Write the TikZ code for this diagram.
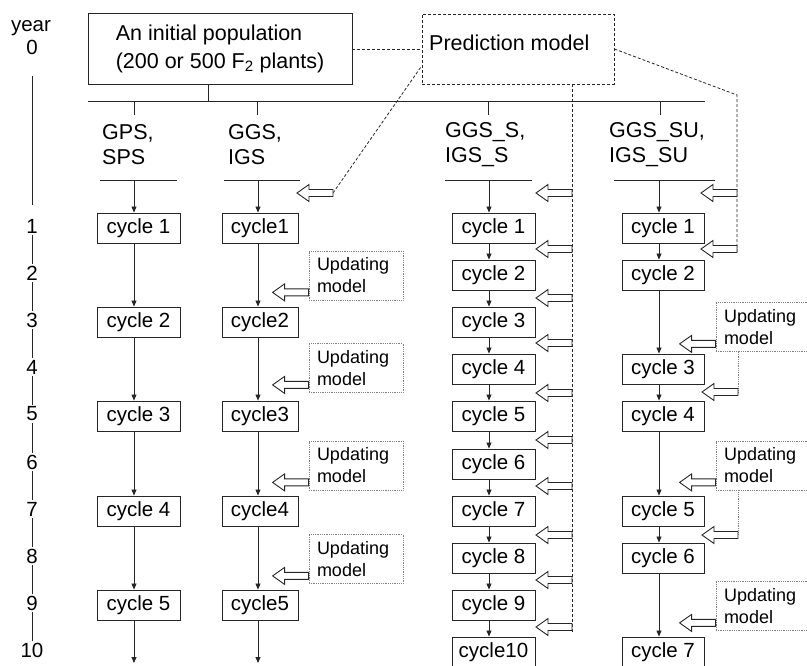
\documentclass[tikz,border=0pt]{standalone}
\usepackage{fontspec}
\setmainfont{Liberation Sans}
\usetikzlibrary{arrows.meta}

\begin{document}
\begin{tikzpicture}[x=1pt, y=-1pt,
    cyc/.style={rectangle, draw=black!85, line width=0.9pt, minimum width=82pt, minimum height=30pt, inner sep=0pt, font=\fontsize{20.5}{24}\selectfont},
    upd/.style={rectangle, draw=black!50, densely dotted, line width=0.8pt, minimum width=94pt, minimum height=49pt, text width=78pt, align=left, inner sep=0pt, font=\fontsize{18}{22}\selectfont},
    hollow/.pic={\draw[draw=black!85, fill=white, line width=0.9pt] (0,-3.5) -- (-24,-3.5) -- (-24,-8.5) -- (-36,0) -- (-24,8.5) -- (-24,3.5) -- (0,3.5) -- cycle;},
    pred/.style={draw=black!85, line width=0.8pt, dash pattern=on 3pt off 2pt},
    updline/.style={draw=black!50, densely dotted, line width=0.8pt},
    flow/.style={-{Triangle[length=6pt,width=5pt]}, draw=black!85, line width=0.8pt},
    bar/.style={draw=black!85, line width=0.9pt},
    txt/.style={font=\fontsize{21.5}{25}\selectfont, align=left, inner sep=0pt},
    yr/.style={font=\fontsize{20.5}{24}\selectfont, inner sep=2pt}
]
    \useasboundingbox (0,0) rectangle (807,665);

    % Years
    \node[yr] (yhead) at (31,28) {year};
    \foreach \n/\y in {0/47,1/226,2/273,3/320,4/367,5/414,6/462,7/509,8/556,9/603,10/650}
        \node[yr] (y\n) at (32,\y) {\n};
    \draw[bar, shorten <=20pt, shorten >=12pt] (y0) -- (y1);
    \foreach \i/\j in {1/2,2/3,3/4,4/5,5/6,6/7,7/8,8/9,9/10}
        \draw[bar] (y\i) -- (y\j);

    % Top
    \node[rectangle, draw=black!85, line width=0.9pt, minimum width=264pt, minimum height=71pt, txt, font=\fontsize{21.5}{28}\selectfont] (pop) at (220,49) {An initial population\\(200 or 500 F\textsubscript{2} plants)};
    \node[rectangle, pred, minimum width=192pt, minimum height=70pt] (model) at (518,49) {};
    \node[txt, anchor=west] (modeltxt) at (429,43) {Prediction model};
    \draw[pred] (pop) -- (model);

    \draw[bar] ([xshift=-12pt]pop.south) -- (208,101);
    \draw[bar] (88,101) -- (705,101);
    \foreach \x in {134,257,488,660}
        \draw[bar] (\x,101) -- (\x,115);

    \node[txt, anchor=west] (lg) at (102,145) {GPS,\\SPS};
    \node[txt, anchor=west] (li) at (228,145) {GGS,\\IGS};
    \node[txt, anchor=west] (ls) at (445,145) {GGS\_S,\\IGS\_S};
    \node[txt, anchor=west] (lu) at (609,145) {GGS\_SU,\\IGS\_SU};

    \draw[bar] (100,180) -- (177,180);
    \draw[bar] (224,180) -- (300,180);
    \draw[bar] (445,180) -- (532,180);
    \draw[bar] (614,180) -- (715,180);
    \coordinate (bg) at (134,180);
    \coordinate (bi) at (258,180);
    \coordinate (bs) at (489,180);
    \coordinate (bu) at (659,180);
    \coordinate (eg) at (134,663);
    \coordinate (ei) at (258,663);

    % GPS, SPS
    \foreach \i/\y in {1/228,2/322,3/416,4/511,5/605}
        \node[cyc, minimum width=83pt] (g\i) at (138.5,\y) {cycle \i};
    \draw[flow] (bg) -- (bg |- g1.north);
    \foreach \i/\j in {1/2,2/3,3/4,4/5}
        \draw[flow] (g\i.south -| bg) -- (g\j.north -| bg);
    \draw[flow] (g5.south -| bg) -- (eg);

    % GGS, IGS
    \foreach \i/\y in {1/228,2/322,3/416,4/511,5/605}
        \node[cyc, minimum width=76pt] (i\i) at (260,\y) {cycle\i};
    \draw[flow] (bi) -- (bi |- i1.north);
    \foreach \i/\j in {1/2,2/3,3/4,4/5}
        \draw[flow] (i\i.south -| bi) -- (i\j.north -| bi);
    \draw[flow] (i5.south -| bi) -- (ei);
    \coordinate (ti) at (333,193);
    \draw[pred] (ti) -- ([yshift=-17pt]model.west);
    \pic at (ti) {hollow};
    \foreach \i/\y in {1/275.5,2/368,3/465.5,4/559} {
        \node[upd] (ui\i) at (356,\y) {Updating\\model};
        \pic at ([yshift=8pt]ui\i.south west) {hollow};
    }

    % GGS_S, IGS_S
    \foreach \i/\y in {1/228,2/275,3/322,4/369,5/416,6/464,7/511,8/558,9/605,10/652}
        \node[cyc, minimum width=83pt] (s\i) at (493.5,\y) {cycle\ifnum\i<10\ \fi\i};
    \draw[flow] (bs) -- (bs |- s1.north);
    \foreach \i/\j in {1/2,2/3,3/4,4/5,5/6,6/7,7/8,8/9,9/10}
        \draw[flow] (s\i.south -| bs) -- (s\j.north -| bs);
    \coordinate (ds) at (572,633);
    \draw[pred] (model.south -| ds) -- (ds);
    \foreach \y in {193,249,298,343,393,440,486,535,580,627}
        \pic at (572,\y) {hollow};

    % GGS_SU, IGS_SU
    \foreach \i/\y in {1/228,2/275,3/369,4/416,5/511,6/558,7/652}
        \node[cyc] (u\i) at (663,\y) {cycle \i};
    \draw[flow] (bu) -- (bu |- u1.north);
    \foreach \i/\j in {1/2,2/3,3/4,4/5,5/6,6/7}
        \draw[flow] (u\i.south -| bu) -- (u\j.north -| bu);
    \coordinate (ku) at (737,95);
    \coordinate (du) at (737,252);
    \draw[pred] (model.east) -- (ku) -- (du);
    \pic at (737,193) {hollow};
    \pic at (737,249) {hollow};
    \coordinate (vu1) at (738,392);
    \coordinate (vu2) at (738,535);
    \foreach \i/\y in {1/327,2/465.5,3/606} {
        \node[upd] (uu\i) at (763,\y) {Updating\\model};
        \pic at ([yshift=8pt]uu\i.south west) {hollow};
    }
    \draw[updline] (uu1.south -| vu1) -- (vu1);
    \draw[updline] (uu2.south -| vu2) -- (vu2);
    \pic at (vu1) {hollow};
    \pic at (vu2) {hollow};
\end{tikzpicture}
\end{document}
